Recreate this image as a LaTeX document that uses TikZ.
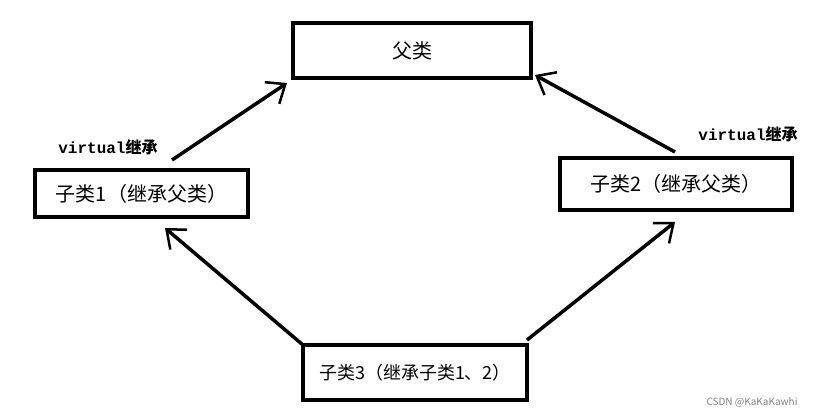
\documentclass[tikz,border=0pt]{standalone}
\usepackage{fontspec}
\setmainfont{Noto Sans CJK SC}
\newfontfamily\monof{Liberation Mono}
\usetikzlibrary{arrows.meta}
\begin{document}
\begin{tikzpicture}[x=1pt,y=-1pt,
  box/.style={draw,line width=3.5pt,inner sep=0pt,font=\fontsize{20}{23}\selectfont},
  arr/.style={line width=3.5pt,-{Straight Barb[length=16pt,width=26pt,line width=2.5pt]}},
  lab/.style={font=\bfseries\fontsize{16}{18}\selectfont}]
\useasboundingbox[fill=white] (0,0) rectangle (827,417);
\node[box,minimum width=238pt,minimum height=55pt] (p) at (412,50.5) {父类};
\node[box,minimum width=213pt,minimum height=47pt] (c1) at (141.5,193.5) {子类1（继承父类）};
\node[box,minimum width=232pt,minimum height=52pt] (c2) at (676,184) {子类2（继承父类）};
\node[box,minimum width=224pt,minimum height=55pt,font=\fontsize{18}{21}\selectfont] (c3) at (415,372.5) {子类3（继承子类1、2）};
\coordinate (a1s) at (172,160); \coordinate (a1e) at (287,83);
\coordinate (a2s) at (675,152); \coordinate (a2e) at (535,75);
\coordinate (a3s) at (303,345); \coordinate (a3e) at (165,228);
\coordinate (a4s) at (527,340); \coordinate (a4e) at (675,222);
\draw[arr] (a1s) -- (a1e);
\draw[arr] (a2s) -- (a2e);
\draw[arr] (a3s) -- (a3e);
\draw[arr] (a4s) -- (a4e);
\node[lab] (l1) at (108,147) {{\monof virtual}继承};
\node[lab] (l2) at (748,134) {{\monof virtual}继承};
\node[font=\fontsize{10}{12}\selectfont,text=gray] (w) at (752,402) {CSDN @KaKaKawhi};
\end{tikzpicture}
\end{document}
